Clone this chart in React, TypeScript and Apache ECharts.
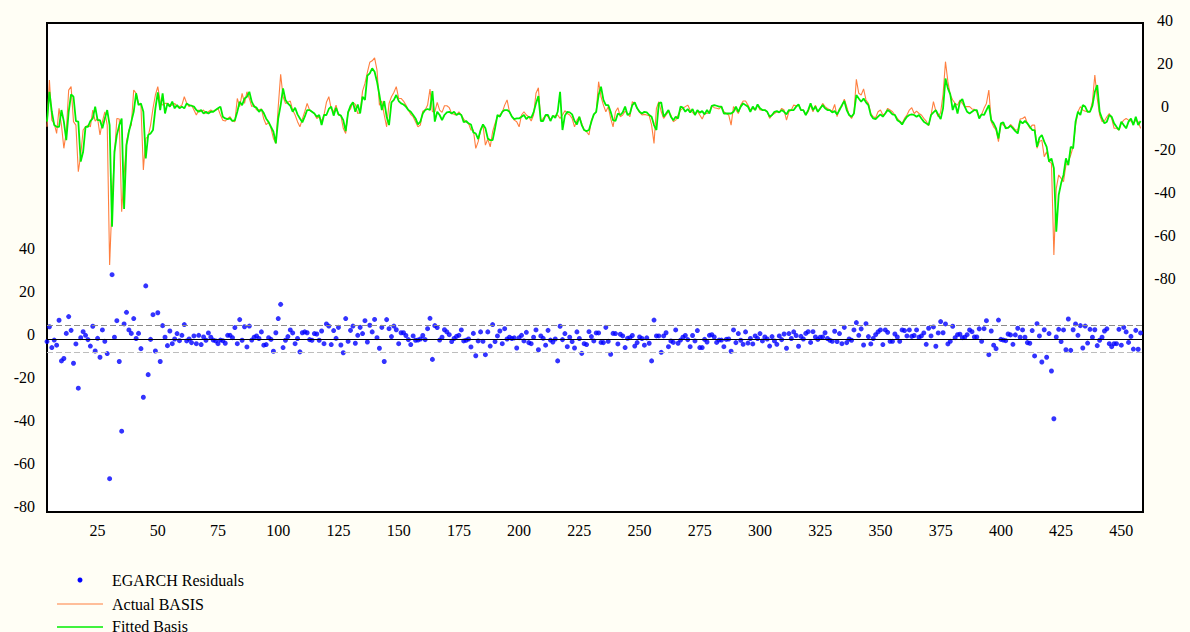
import React, { useEffect, useRef } from "react";
import * as echarts from "echarts";

// observation number of the first value in each series
const START_OBS = 4;
const X_TICKS = [25, 50, 75, 100, 125, 150, 175, 200, 225, 250, 275, 300, 325, 350, 375, 400, 425, 450];
const LEFT_TICKS = [-80, -60, -40, -20, 0, 20, 40];
const RIGHT_TICKS = [-80, -60, -40, -20, 0, 20, 40];
const SE_UPPER = 6.3;
const SE_LOWER = -6.4;

// EGARCH residuals (left axis), obs 4..458, 10 per row
const residuals = [
  -1.2, 5.7, -4.0, -0.5, -2.9, 8.7, -10.2, -9.1, 2.6, 10.4,
  4.0, -11.3, -2.3, -22.9, 0.6, 3.4, 1.7, -0.3, -3.3, 5.9,
  -5.6, 0.3, -8.5, 4.2, -1.1, -6.8, -65.0, 29.9, 0.8, 8.5,
  -10.5, -42.9, 7.0, 12.4, 4.2, 2.6, 9.5, 0.2, 2.6, -4.5,
  -27.1, 24.7, -16.6, -0.2, 11.3, -5.6, 12.2, -10.5, 6.2, 0.8,
  -3.1, 3.7, -2.2, 0, 2.5, -0.8, 1.7, 6.7, -0.9, 0,
  -1.7, 1.4, -2.2, 1.7, -2.6, 0.9, -0.6, 2.8, 0.8, -0.5,
  -0.9, -2.2, -0.5, -0.8, -2.0, 1.7, 1.7, 0.6, 5.3, -2.2,
  9.0, -0.6, 5.7, -3.7, 6.0, -0.5, 0.8, 1.4, 0.2, 3.3,
  -2.9, -2.6, 0.6, -0.2, -5.7, 2.9, 9.5, 16.1, -4.0, -0.6,
  1.1, 4.2, 2.8, -2.2, 0.2, -6.0, 2.9, 3.3, 2.9, -0.3,
  -0.6, 2.5, 2.3, -0.6, 3.7, -2.2, 7.0, 6.0, -2.6, 3.9,
  0.3, 5.4, -2.8, -6.4, 9.5, -1.1, 4.0, 6.0, -2.0, 1.7,
  5.4, 2.5, 8.5, -1.4, 6.4, 3.3, 9.1, 0.6, -4.3, 5.4,
  -10.5, 9.0, 4.8, 1.1, 6.0, 4.3, -2.2, 2.9, 2.9, 1.6,
  -0.3, -2.6, 1.4, -0.6, -0.5, 0, 1.6, -0.3, 4.8, 9.6,
  -9.5, 6.2, 5.3, -0.5, 0.8, 4.3, 3.3, 2.0, -1.2, 0.2,
  1.2, 1.7, 4.2, -0.9, -0.6, 0, -3.7, 2.6, -7.8, -0.9,
  3.3, -1.1, -7.3, 3.3, -3.3, 6.7, -1.2, 1.4, 3.7, -2.2,
  4.8, 0, 0.8, 0.2, 0.5, -4.2, 0.6, 1.7, -0.9, 3.1,
  -1.7, -2.2, 0.8, 4.2, -5.0, 1.4, 0.3, -2.9, 4.0, -0.5,
  -1.4, 0, -10.2, 5.9, -0.3, 2.5, -3.6, 0.8, -1.2, -4.2,
  3.3, 0.2, -6.7, -2.2, -2.6, 3.4, 1.1, -0.9, 2.8, 2.8,
  -1.6, -1.7, 5.4, -1.1, -7.1, 2.6, 2.5, -2.3, 2.2, 1.4,
  -4.0, 0.3, 0.6, 1.6, -3.3, -1.7, 0.9, 0.2, -2.9, 0.5,
  -2.0, -10.2, 8.8, 1.4, 1.4, -6.2, 1.4, 2.9, -3.6, -0.9,
  -1.6, 4.2, -2.0, -0.5, 0.8, 1.6, -0.3, -3.6, 1.6, -0.9,
  3.9, -4.0, -4.0, -0.2, -1.4, 1.7, 2.0, 0.9, -1.6, -0.5,
  -0.5, -3.6, -0.2, 0, -5.7, 4.2, -1.7, 2.5, -0.6, -2.5,
  3.3, -1.9, 0.2, -2.3, 1.4, 0.2, 2.5, -0.9, 0.9, 0,
  -3.3, 1.1, -0.9, -2.5, 1.4, -0.3, 2.3, -4.3, 2.5, 0.2,
  3.3, 1.6, -3.4, 1.2, 0, 2.6, 3.4, -1.6, 3.4, 0.9,
  -0.2, 0.8, 0.9, 2.9, 0.2, -0.6, -1.1, 3.6, -1.2, 2.5,
  -2.2, 5.4, -1.7, 0, -0.6, 4.2, 7.6, 1.7, 4.7, -2.8,
  7.1, 1.1, -2.3, 0.2, 2.0, 3.3, 4.2, -2.6, 4.2, 3.1,
  -1.1, -1.1, 2.3, 0.9, -1.1, 4.2, 3.9, 1.4, 4.2, 1.2,
  1.6, 4.2, 0.8, 1.4, 2.8, -2.5, 5.0, 1.4, 5.6, -3.4,
  2.8, 8.1, 2.9, 7.0, -2.3, -1.1, 5.9, 0.6, 2.0, 2.2,
  0.6, 0.8, 2.0, 4.2, 3.4, 0.9, 0.9, 4.7, -1.1, 4.8,
  8.5, -7.3, 3.7, -2.9, -4.5, 8.8, -0.2, -0.5, -0.8, 2.3,
  1.9, -2.5, 1.9, 5.0, 0.8, 4.2, 0.8, -1.7, -2.0, 3.9,
  -7.9, 7.1, 1.4, -10.7, 4.3, -8.5, 2.5, -14.9, -37.1, 0.9,
  4.5, -1.2, 4.2, -5.0, 9.3, -5.3, 4.3, 7.0, 1.7, 6.2,
  -4.2, 6.0, -1.9, 4.5, 0.8, 4.3, -3.1, -0.6, 0.8, 3.7,
  4.7, -2.2, -3.6, -2.2, -2.2, 4.5, -2.9, 5.4, 3.3, -1.6,
  1.2, -4.7, 4.0, -4.8, 2.8,
];

// Actual BASIS (right axis), obs 4..458
const actualBasis = [
  -7.8, 14.0, -4.7, -6.2, -10.9, 0.8, -7.0, -17.8, -10.1, 9.3,
  10.9, -5.4, -7.0, -28.7, -20.9, -9.3, -7.8, -7.0, -7.8, 0,
  -5.1, -3.9, -11.6, -5.4, -0.8, -7.0, -72.1, -42.6, -20.9, -3.9,
  -4.2, -47.3, -30.2, -14.7, -9.3, -7.0, 9.3, 7.8, 3.1, 2.3,
  -27.9, -13.2, -12.4, -7.0, 0.8, 7.0, 10.9, 3.9, 2.3, 3.1,
  3.1, 2.3, 2.3, 3.1, 1.6, 1.6, 2.3, 6.2, 3.1, 1.6,
  2.3, 0, -2.3, 0, -0.8, 0, -1.6, -0.8, 0, -0.8,
  0, 0.8, -2.3, -4.7, -5.1, -3.9, -3.1, -5.1, -5.4, 5.4,
  1.6, 7.8, 3.1, 8.5, 5.4, 1.6, 2.3, 0, 0, 0.5,
  -4.2, -6.8, -5.6, -8.5, -13.2, -15.5, 1.6, 16.6, 6.2, 3.1,
  3.6, 4.2, 0, -2.3, -5.4, -7.8, -4.2, -0.8, 3.1, 0,
  -0.8, -1.6, -3.9, -3.1, -5.1, -2.3, 3.6, 6.2, 0.5, -0.8,
  2.3, -2.3, -2.6, -8.5, -10.9, -0.8, 0.5, 3.6, 2.6, -1.6,
  -1.1, 8.8, 12.4, 17.5, 22.2, 22.9, 24.3, 18.6, 2.3, 4.2,
  -2.3, -7.8, 3.1, 6.2, 8.2, 10.9, 5.4, 5.4, 4.2, 2.3,
  0, -2.0, -3.1, -5.4, -7.8, -7.0, -0.5, 0, 2.3, 9.8,
  -0.8, -0.8, 3.6, 0, -1.1, 2.0, 2.0, 1.1, -1.6, -2.0,
  -2.3, -0.8, -2.3, -4.2, -5.7, -6.2, -9.3, -9.3, -17.8, -14.7,
  -9.3, -7.0, -16.3, -13.5, -17.1, -10.1, -6.2, -3.1, -2.3, -1.1,
  2.3, 4.7, -0.8, -3.1, -4.7, -5.4, -7.8, -2.3, -0.8, -2.3,
  -3.1, -5.1, -2.3, 7.8, 10.4, -5.1, -3.9, -2.3, -3.1, -4.7,
  -3.1, -2.6, -2.3, -3.9, -2.3, -0.3, -1.6, -2.3, -3.9, -7.8,
  -4.7, -3.1, -6.2, -9.3, -10.1, -11.6, -4.7, -2.3, -0.8, 13.2,
  6.2, 2.3, -0.8, 1.6, -3.9, -7.8, -0.8, 1.1, -3.1, -2.3,
  -0.5, -1.6, -3.1, 3.9, 3.1, 0.8, -1.1, -2.3, -2.0, -2.3,
  -2.6, -7.0, -15.5, 0.8, 3.9, -0.8, -3.9, -2.3, -0.8, -2.3,
  -5.4, -4.7, -2.3, 0, 0.8, 1.6, 2.3, 0, -1.1, -2.3,
  -0.5, -2.3, -4.2, -1.6, -1.6, -0.8, 2.0, 1.1, 0.8, 0.5,
  1.6, -0.8, -1.6, -2.3, -7.0, 1.6, 0, -1.6, 2.3, 4.2,
  4.2, 2.3, 0, 0.8, 0, 2.3, 0, 0, 0, -0.8,
  -3.9, -2.3, -1.6, -0.8, -1.1, 0.8, 0, -4.7, -0.8, 0,
  2.3, 2.0, 2.3, 0, 0, -2.3, -0.8, 2.3, -0.8, 2.3,
  -0.8, 0.5, 3.1, 1.6, 0.8, 0, -0.5, 2.6, -3.1, 0.8,
  1.6, 5.1, 1.6, -2.3, -3.9, -1.6, 14.3, 7.8, 7.0, 9.8,
  4.7, 3.1, -1.6, -3.1, -3.6, -0.8, 0, -2.3, -1.6, 0.8,
  0, -0.8, -2.3, -3.9, -5.1, -6.2, -3.9, -2.3, 0, 1.1,
  -1.6, -0.5, -1.6, -2.3, -3.9, -5.1, -7.3, -2.3, 3.9, -0.5,
  -3.1, -1.1, 7.3, 22.5, 13.2, 7.0, 4.7, 3.1, 2.3, 4.7,
  3.1, 1.6, 1.6, 1.6, 0.5, 0.3, -0.8, -3.1, -2.0, 0.8,
  3.1, 9.3, -5.4, -7.8, -9.3, -14.7, -6.2, -7.0, -7.8, -8.5,
  -6.7, -7.8, -9.3, -9.3, -4.2, -3.9, -3.1, -6.2, -8.5, -7.0,
  -7.0, -17.8, -14.7, -14.0, -21.7, -19.4, -24.0, -24.8, -67.4, -36.4,
  -30.2, -31.8, -33.3, -25.6, -24.0, -20.9, -17.1, -7.0, -0.8, 1.6,
  0, -0.5, -0.8, -0.8, 3.9, 16.3, 5.4, -2.3, -5.4, -5.1,
  -3.1, -1.6, -3.9, -8.5, -8.5, -9.3, -6.2, -4.7, -3.9, -4.7,
  -5.1, -6.2, -4.7, -5.4, -8.5,
];

// Fitted Basis (right axis), obs 4..458
const fittedBasis = [
  -5.4, 8.5, -0.8, -7.0, -7.8, -7.8, 0, -5.4, -14.0, -0.8,
  7.3, 6.2, -5.1, -5.4, -24.0, -19.4, -7.8, -7.8, -5.1, -3.9,
  1.6, -4.7, -4.7, -8.5, -3.9, 0, -7.0, -54.3, -19.4, -11.6,
  -7.0, -3.9, -46.0, -16.3, -10.1, -5.4, -0.8, 7.8, 2.3, 3.1,
  -0.8, -22.5, -11.6, -10.9, -9.3, 0.8, 8.2, 0, 7.8, -1.6,
  3.1, 1.6, 3.9, 0.8, 2.3, 0.8, 1.6, 0.8, 3.1, 2.3,
  2.0, 1.6, 0, -0.8, 0, -1.6, -0.8, -1.6, -0.8, -0.8,
  0, 0.8, 1.6, -3.1, -3.9, -4.2, -3.9, -5.1, -4.7, -0.8,
  3.9, 2.3, 5.4, 6.2, 8.5, 3.9, 1.6, 1.1, -0.8, 0.3,
  -1.4, -4.0, -5.6, -7.8, -10.1, -15.5, -3.9, 2.3, 10.1, 4.7,
  3.1, 2.0, -0.8, 1.1, -2.0, -3.9, -5.7, -3.1, 0, 0,
  -0.8, -1.6, -3.1, -2.3, -7.0, -2.3, -2.3, 0.5, 1.6, -2.6,
  1.1, -2.0, -2.6, -4.7, -9.8, -1.1, 2.0, 3.6, -0.8, 2.6,
  -1.6, 6.2, 4.7, 16.0, 17.1, 19.4, 17.8, 13.2, 7.0, 0,
  4.2, -3.1, -7.0, 3.6, 4.7, 7.0, 4.2, 3.1, 2.6, 1.6,
  0, -0.8, -2.3, -3.9, -6.7, -5.4, -1.6, 0, 0.5, 0,
  8.8, -5.4, -0.8, -2.3, -4.7, -2.3, -1.1, -0.8, -1.6, -0.8,
  -2.3, -1.6, -2.3, -5.7, -5.1, -6.2, -6.7, -10.4, -10.9, -13.5,
  -9.3, -6.7, -8.5, -13.2, -14.0, -14.0, -8.5, -2.3, -3.1, -0.8,
  0, 0, -0.8, -3.1, -4.2, -3.9, -3.9, -3.1, -2.3, -4.2,
  -3.1, -3.6, -1.1, 3.1, 6.5, -5.1, -5.1, -2.3, -2.3, -5.1,
  -2.6, -3.6, -0.8, 8.5, -9.3, -2.6, -0.8, -1.1, -2.0, -5.1,
  -6.7, -3.1, -7.0, -9.3, -9.8, -9.3, -5.4, -2.0, -0.8, 7.0,
  10.9, 4.7, 2.3, 2.3, -0.8, -4.7, -5.1, -1.6, -2.3, -1.1,
  1.6, -2.3, -1.6, 2.3, 3.6, 0.8, -0.8, -1.6, -0.8, -1.1,
  -2.3, -3.1, -7.0, -9.3, 3.1, 3.6, -3.1, -1.6, 0, -3.1,
  -4.7, -3.1, -3.9, 1.6, 1.1, -0.8, 0.5, -1.1, 0.5, -2.3,
  0, -1.2, -0.5, -2.0, 0, -1.6, 2.0, 2.3, 2.0, 1.6,
  1.6, -1.6, -1.6, -1.6, -1.6, -0.8, 1.6, -0.8, 1.6, 3.1,
  2.3, 1.6, -0.8, 1.6, 0, 2.6, 0.8, 0, 0, -0.8,
  -3.1, -2.3, -0.8, -0.5, -1.1, 0, -0.8, -2.0, 0, 0,
  0, 1.6, 2.6, 0, 0, -2.3, 0, 3.1, 0, 1.6,
  -0.8, 0.8, 2.3, 0.8, 0, 0, -1.1, -0.5, -2.0, 0,
  2.3, 4.2, 0, -2.3, -3.1, -1.6, 7.0, 5.4, 3.9, 5.4,
  3.6, 2.3, -2.3, -3.9, -4.2, -3.1, -2.0, -3.1, -1.6, 0,
  -0.8, -2.0, -2.3, -4.7, -5.4, -6.7, -4.7, -3.1, -2.3, -2.0,
  -2.3, -3.1, -2.3, -3.9, -5.4, -6.2, -7.0, -2.3, -1.1, 0,
  -2.3, -4.2, 0.8, 14.7, 10.1, 7.3, 0, 3.1, -1.6, 3.9,
  5.1, 1.6, -0.8, -1.6, -0.8, 0, 0, -3.9, -2.0, -2.3,
  0, 2.3, -4.7, -6.2, -8.5, -13.2, -6.2, -5.7, -8.5, -8.2,
  -7.3, -8.5, -9.8, -10.9, -5.1, -6.2, -5.1, -6.2, -7.8, -9.3,
  -9.3, -17.1, -12.9, -11.6, -14.7, -17.1, -24.0, -22.5, -27.1, -56.6,
  -39.5, -34.1, -30.2, -22.5, -25.6, -17.1, -17.8, -5.4, -0.8, -2.3,
  2.3, 1.6, -0.8, -0.8, 2.0, 8.5, 11.6, -0.8, -3.9, -6.2,
  -5.4, -2.3, -3.1, -6.2, -7.8, -9.3, -5.4, -7.0, -8.5, -5.4,
  -3.9, -7.0, -3.1, -7.0, -5.1,
];

const toPairs = (arr: number[]) => arr.map((v, i) => [START_OBS + i, v]);

const FONT = '"Liberation Serif", "Times New Roman", serif';

export default function App() {
  const ref = useRef<HTMLDivElement>(null);

  useEffect(() => {
    document.body.style.margin = "0";
    document.body.style.background = "#fffef5";
    if (!ref.current) return;
    const chart = echarts.init(ref.current, undefined, { renderer: "svg" });
    const labelBase = { fontFamily: FONT, fontSize: 16, color: "#000" };
    chart.setOption({
      animation: false,
      backgroundColor: "#fffef5",
      grid: {
        left: 47,
        right: 47,
        top: 23,
        bottom: 120,
        show: true,
        backgroundColor: "#ffffff",
        borderColor: "#000000",
        borderWidth: 2,
      },
      xAxis: {
        type: "value",
        min: START_OBS,
        max: 459,
        axisLine: { show: false },
        axisTick: { show: false },
        splitLine: { show: false },
        axisLabel: { ...labelBase, customValues: X_TICKS, margin: 10 },
      },
      yAxis: [
        {
          type: "value",
          position: "left",
          min: -80.5,
          max: 147,
          axisLine: { show: false },
          axisTick: { show: false },
          splitLine: { show: false },
          axisLabel: {
            ...labelBase,
            customValues: LEFT_TICKS,
            margin: 12,
            verticalAlign: "bottom",
            lineHeight: 8,
          },
        },
        {
          type: "value",
          position: "right",
          min: -187,
          max: 40.5,
          axisLine: { show: false },
          axisTick: { show: false },
          splitLine: { show: false },
          axisLabel: {
            ...labelBase,
            customValues: RIGHT_TICKS,
            margin: 22,
            align: "center",
            verticalAlign: "bottom",
            lineHeight: 8,
          },
        },
      ],
      series: [
        {
          name: "EGARCH Residuals",
          type: "scatter",
          yAxisIndex: 0,
          data: toPairs(residuals),
          symbol: "circle",
          symbolSize: 5,
          itemStyle: { color: "#0000ff" },
          z: 2,
          markLine: {
            silent: true,
            symbol: ["none", "none"],
            label: { show: false },
            data: [
              { yAxis: 0, lineStyle: { color: "#000000", type: "solid", width: 1 } },
              { yAxis: SE_UPPER, lineStyle: { color: "#8a8a8a", type: [6, 3], width: 1 } },
              { yAxis: SE_LOWER, lineStyle: { color: "#bdbdbd", type: [6, 3], width: 1 } },
            ],
          },
        },
        {
          name: "Actual BASIS",
          type: "line",
          yAxisIndex: 1,
          data: toPairs(actualBasis),
          showSymbol: false,
          lineStyle: { color: "#ff7f3f", width: 1.1 },
          itemStyle: { color: "#ff7f3f" },
          z: 3,
        },
        {
          name: "Fitted Basis",
          type: "line",
          yAxisIndex: 1,
          data: toPairs(fittedBasis),
          showSymbol: false,
          lineStyle: { color: "#00ee00", width: 1.8 },
          itemStyle: { color: "#00ee00" },
          z: 4,
        },
      ],
      graphic: [
        { type: "circle", shape: { cx: 80, cy: 580, r: 2.5 }, style: { fill: "#0000ff" } },
        {
          type: "text",
          x: 112,
          y: 580,
          style: { text: "EGARCH Residuals", fontFamily: FONT, fontSize: 16, fill: "#000", verticalAlign: "middle" },
        },
        { type: "line", shape: { x1: 57, y1: 604, x2: 103, y2: 604 }, style: { stroke: "#ff7f3f", lineWidth: 1 } },
        {
          type: "text",
          x: 112,
          y: 604,
          style: { text: "Actual BASIS", fontFamily: FONT, fontSize: 16, fill: "#000", verticalAlign: "middle" },
        },
        { type: "line", shape: { x1: 57, y1: 627, x2: 103, y2: 627 }, style: { stroke: "#00ee00", lineWidth: 1.5 } },
        {
          type: "text",
          x: 112,
          y: 626,
          style: { text: "Fitted Basis", fontFamily: FONT, fontSize: 16, fill: "#000", verticalAlign: "middle" },
        },
      ],
    });
    return () => chart.dispose();
  }, []);

  return <div ref={ref} style={{ width: 1190, height: 632 }} />;
}
